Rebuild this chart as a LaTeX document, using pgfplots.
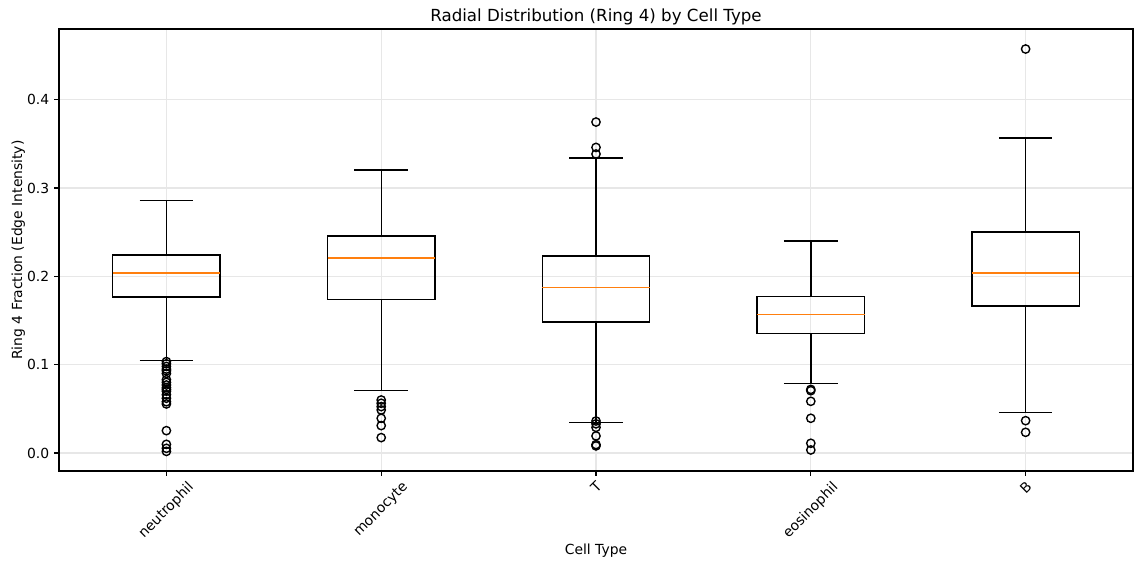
\documentclass[border=0pt]{standalone}
\usepackage{fontspec}
\setmainfont{DejaVu Sans}
\usepackage{graphicx}
\usepackage{pgfplots}
\pgfplotsset{compat=1.18}
\usepgfplotslibrary{statistics}
\definecolor{mplorange}{HTML}{FF7F0E}
\definecolor{gridgray}{HTML}{E7E7E7}
\pgfplotsset{
  mplbox/.style={
    solid, black, line width=1pt, mark=o, mark size=3pt,
    mark options={solid, black, line width=1pt, fill=none},
    boxplot/draw direction=y,
    boxplot/box extend=0.5,
    boxplot/whisker extend=0.25,
    boxplot/every median/.style={draw=mplorange, line width=1pt},
  },
}
\begin{document}
\begin{tikzpicture}
  % page = 1142 x 566 px at 0.72pt per px; axis box at (0,0)
  \useasboundingbox (-42.48pt,-68.40pt) rectangle (779.76pt,339.12pt);
  \begin{axis}[
    at={(0,0)}, anchor=south west,
    scale only axis,
    width=773.3pt, height=318.2pt,
    xmin=0.5, xmax=5.5,
    ymin=-0.0204, ymax=0.480,
    xtick={1,2,3,4,5},
    xticklabels={\rotatebox{45}{neutrophil}, \rotatebox{45}{monocyte}, \rotatebox{45}{T}, \rotatebox{45}{eosinophil}, \rotatebox{45}{B}},
    xticklabel style={anchor=north},
    ytick={0,0.1,0.2,0.3,0.4},
    yticklabel style={/pgf/number format/fixed, /pgf/number format/fixed zerofill, /pgf/number format/precision=1},
    /pgf/number format/assume math mode=true,
    tick align=outside,
    xtick pos=bottom, ytick pos=left,
    major tick length=3.5pt,
    every tick/.style={black, line width=0.8pt},
    axis line style={line width=0.8pt},
    xmajorgrids, ymajorgrids,
    grid style={gridgray, line width=0.8pt},
    title={\fontsize{12}{14}\selectfont Radial Distribution (Ring 4) by Cell Type},
    title style={at={(axis description cs:0.5,1.009)}, anchor=center},
    xlabel={Cell Type},
    xlabel style={at={(axis description cs:0.5,-0.181)}, anchor=center},
    ylabel={Ring 4 Fraction (Edge Intensity)},
    ylabel style={at={(axis description cs:-0.038,0.5)}, anchor=center},
  ]
  % neutrophil
  \addplot[mplbox,
    boxplot prepared={draw position=1, median=0.2036, upper quartile=0.224, lower quartile=0.1764,
      upper whisker=0.2856, lower whisker=0.105}]
    table[row sep=\\, y index=0] {y\\
    0.1035\\ 0.101\\ 0.098\\ 0.095\\ 0.093\\ 0.090\\ 0.083\\ 0.080\\ 0.077\\ 0.074\\
    0.072\\ 0.070\\ 0.066\\ 0.062\\ 0.058\\ 0.0555\\ 0.0253\\ 0.0098\\ 0.0053\\ 0.0018\\
  };
  % monocyte
  \addplot[mplbox,
    boxplot prepared={draw position=2, median=0.2206, upper quartile=0.2455, lower quartile=0.1741,
      upper whisker=0.3203, lower whisker=0.0706}]
    table[row sep=\\, y index=0] {y\\
    0.0600\\ 0.0563\\ 0.0525\\ 0.0487\\ 0.0393\\ 0.0310\\ 0.0174\\
  };
  % T
  \addplot[mplbox,
    boxplot prepared={draw position=3, median=0.1877, upper quartile=0.2232, lower quartile=0.1484,
      upper whisker=0.334, lower whisker=0.0347}]
    table[row sep=\\, y index=0] {y\\
    0.3747\\ 0.346\\ 0.3385\\ 0.0362\\ 0.0330\\ 0.0290\\ 0.0193\\ 0.0095\\ 0.0080\\
  };
  % eosinophil
  \addplot[mplbox,
    boxplot prepared={draw position=4, median=0.1568, upper quartile=0.1775, lower quartile=0.1356,
      upper whisker=0.2399, lower whisker=0.079}]
    table[row sep=\\, y index=0] {y\\
    0.0720\\ 0.0705\\ 0.0585\\ 0.0393\\ 0.0110\\ 0.0034\\
  };
  % B
  \addplot[mplbox,
    boxplot prepared={draw position=5, median=0.2036, upper quartile=0.2504, lower quartile=0.1666,
      upper whisker=0.3566, lower whisker=0.0461}]
    table[row sep=\\, y index=0] {y\\
    0.4574\\ 0.0366\\ 0.0234\\
  };
  \end{axis}
\end{tikzpicture}
\end{document}
